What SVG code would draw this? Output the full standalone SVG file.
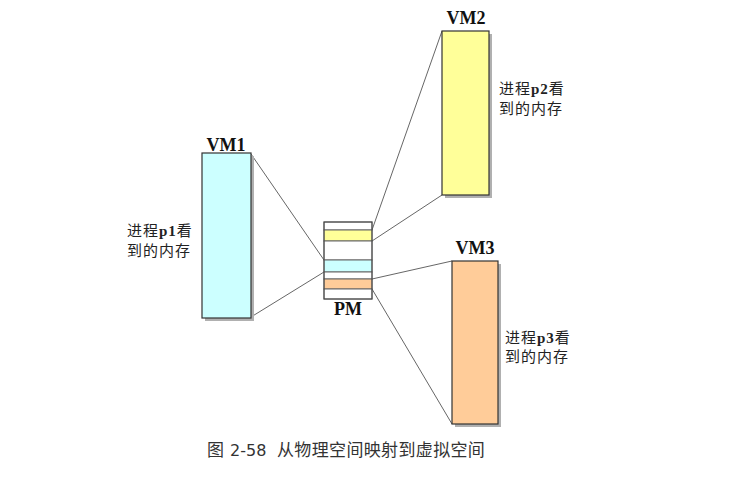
<svg xmlns="http://www.w3.org/2000/svg" width="733" height="477" viewBox="0 0 733 477">
  <style>
    .box { stroke: #333; stroke-width: 1.2; }
    .shadow { fill: #b0b0b0; }
    .title { font-family: "Liberation Serif", "Times New Roman", serif; font-weight: bold; font-size: 18px; fill: #111; text-anchor: middle; }
    .desc { font-family: "Noto Sans CJK SC", "Noto Sans", sans-serif; font-size: 15px; fill: #222; letter-spacing: 1px; }
    .desc .pn { font-family: "Liberation Serif", "Noto Sans CJK SC", serif; font-weight: bold; }
    .conn line { stroke: #555; stroke-width: 0.9; }
    .seg { stroke: #666; stroke-width: 1; }
    .cap { font-family: "DejaVu Sans", "Noto Sans CJK SC", sans-serif; fill: #333; }
  </style>
  <rect width="733" height="477" fill="#fff"/>

  <g id="connectors" class="conn">
    <line x1="251" y1="154" x2="324" y2="260"/>
    <line x1="251" y1="317" x2="324" y2="272"/>
    <line x1="372" y1="230" x2="442" y2="31"/>
    <line x1="372" y1="241" x2="442" y2="195"/>
    <line x1="372" y1="279" x2="452" y2="261"/>
    <line x1="372" y1="289" x2="452" y2="424"/>
  </g>

  <g id="vm1">
    <rect class="shadow" x="205" y="156" width="49" height="165"/>
    <rect class="box" x="202" y="153" width="49" height="165" fill="#ccffff"/>
    <text class="title" x="226" y="151">VM1</text>
    <text class="desc" x="127" y="236">进程<tspan class="pn">p1</tspan>看</text>
    <text class="desc" x="127" y="256">到的内存</text>
  </g>

  <g id="vm2">
    <rect class="shadow" x="445" y="34" width="47" height="164"/>
    <rect class="box" x="442" y="31" width="47" height="164" fill="#ffff99"/>
    <text class="title" x="466" y="24">VM2</text>
    <text class="desc" x="499" y="94">进程<tspan class="pn">p2</tspan>看</text>
    <text class="desc" x="499" y="114">到的内存</text>
  </g>

  <g id="vm3">
    <rect class="shadow" x="455" y="264" width="46" height="163"/>
    <rect class="box" x="452" y="261" width="46" height="163" fill="#ffcc99"/>
    <text class="title" x="475" y="254">VM3</text>
    <text class="desc" x="505" y="343">进程<tspan class="pn">p3</tspan>看</text>
    <text class="desc" x="505" y="362">到的内存</text>
  </g>

  <g id="pm">
    <rect class="seg" x="324" y="222" width="48" height="8" fill="#fff"/>
    <rect class="seg" x="324" y="230" width="48" height="11" fill="#ffff99"/>
    <rect class="seg" x="324" y="241" width="48" height="19" fill="#fff"/>
    <rect class="seg" x="324" y="260" width="48" height="12" fill="#ccffff"/>
    <rect class="seg" x="324" y="272" width="48" height="7" fill="#fff"/>
    <rect class="seg" x="324" y="279" width="48" height="10" fill="#ffcc99"/>
    <rect class="seg" x="324" y="289" width="48" height="10" fill="#fff"/>
    <rect x="324" y="222" width="48" height="77" fill="none" stroke="#444" stroke-width="1"/>
    <text class="title" x="348" y="315">PM</text>
  </g>

  <g id="caption">
    <text class="cap" x="207" y="456" font-size="17">图</text>
    <text class="cap" x="230" y="456" font-size="16">2-58</text>
    <text class="cap" x="277" y="456" font-size="17" letter-spacing="0.35">从物理空间映射到虚拟空间</text>
  </g>
</svg>
